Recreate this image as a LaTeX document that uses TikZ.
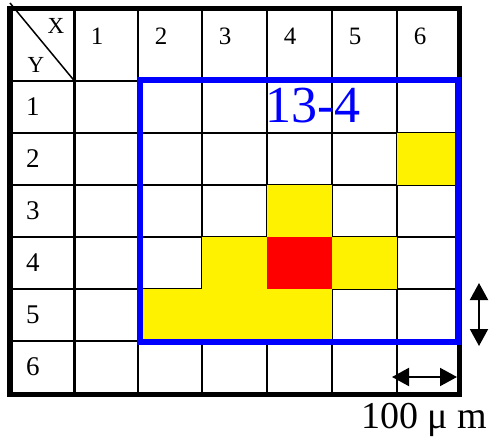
\documentclass[tikz,border=0pt]{standalone}
\usepackage{fontspec}
\setmainfont{Liberation Serif}
\usetikzlibrary{arrows.meta}
\tikzset{
  gridline/.style={line width=2.2pt},
  hotcell/.style={fill=yellow},
  peakcell/.style={fill=red},
  axislbl/.style={font=\fontsize{23}{26}\selectfont},
  collbl/.style={font=\fontsize{25}{28}\selectfont},
  rowlbl/.style={font=\fontsize{27}{30}\selectfont},
  scalebar/.style={line width=2pt,{Triangle[width=18pt,length=17pt]}-{Triangle[width=18pt,length=17pt]}}
}
\begin{document}
\begin{tikzpicture}[x=1pt,y=-1pt]
  \useasboundingbox (0,0) rectangle (493,444);
  % grid
  \foreach \x in {74.5,138,202,267,332,397} {\draw[gridline] (\x,8.5) -- (\x,394.5);}
  \foreach \y in {81,133,185,237,289,341} {\draw[gridline] (10,\y) -- (459.5,\y);}
  \draw[line width=1.5pt] (10,3) -- (74.5,81);
  % cells
  \fill[hotcell] (397,133) rectangle (459.5,185);
  \fill[hotcell] (267,185) rectangle (332,237);
  \fill[hotcell] (202,237) rectangle (267,289);
  \fill[hotcell] (332,237) rectangle (397,289);
  \fill[hotcell] (138,289) rectangle (332,341);
  \fill[peakcell] (267,237) rectangle (332,289);
  \draw[line width=5.5pt] (10,8.5) rectangle (459.5,394.5);
  \draw[blue,line width=6pt] (140,80.5) rectangle (457.5,341.5);
  % labels
  \node[axislbl] (xlbl) at (56,26) {X};
  \node[axislbl] (ylbl) at (36,65) {Y};
  \foreach \x [count=\i] in {97,161,225,290,355,420} {\node[collbl] (col\i) at (\x,36) {\i};}
  \foreach \y [count=\i] in {107,159,211,263,315,367} {\node[rowlbl] (row\i) at (33,\y) {\i};}
  \node[blue,font=\fontsize{52}{56}\selectfont] (roi) at (313,106) {13-4};
  % scale
  \coordinate (vtop) at (479,283);
  \coordinate (vbot) at (479,346);
  \coordinate (hleft) at (392,377);
  \coordinate (hright) at (457,377);
  \draw[scalebar] (vtop) -- (vbot);
  \draw[scalebar] (hleft) -- (hright);
  \node[font=\fontsize{38}{42}\selectfont] (unit) at (424,420) {100 μ m};
\end{tikzpicture}
\end{document}
